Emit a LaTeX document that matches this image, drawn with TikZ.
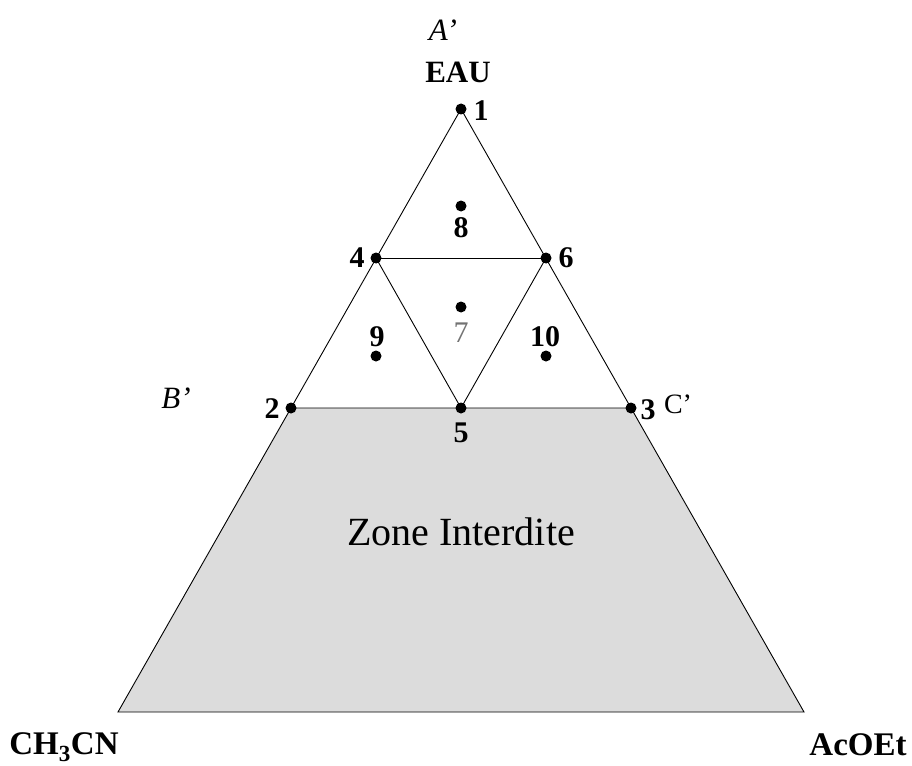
\documentclass[tikz,border=0pt]{standalone}
\usepackage{fontspec}
\setmainfont{Liberation Serif}
\definecolor{zonegray}{RGB}{220,220,220}
\begin{document}
\begin{tikzpicture}[x=1pt,y=-1pt,
  dot/.style={circle,fill=black,inner sep=0pt,minimum size=11pt},
  num/.style={font=\fontsize{30}{30}\selectfont\bfseries,inner sep=0pt},
  prime/.style={font=\fontsize{28}{28}\selectfont,inner sep=0pt},
  corner/.style={font=\fontsize{33}{33}\selectfont\bfseries,inner sep=0pt},
  edge/.style={line width=0.9pt,black}]
\useasboundingbox (0,0) rectangle (912,765);
% vertex positions
\coordinate (c1) at (461,109);
\coordinate (c2) at (291,408);
\coordinate (c3) at (631,408);
\coordinate (c4) at (376,258);
\coordinate (c6) at (546,258);
\coordinate (c5) at (461,408);
\coordinate (bl) at (118,712);
\coordinate (br) at (804,712);
% forbidden zone
\draw[edge,fill=zonegray] (c2) -- (c3) -- (br) -- (bl) -- cycle;
% triangle edges
\draw[edge] (c2) -- (c1) -- (c3);
\draw[edge] (c4) -- (c6);
\draw[edge] (c4) -- (c5) -- (c6);
% dots
\node[dot] (p1) at (c1) {};
\node[dot] (p2) at (c2) {};
\node[dot] (p3) at (c3) {};
\node[dot] (p4) at (c4) {};
\node[dot] (p5) at (c5) {};
\node[dot] (p6) at (c6) {};
\node[dot] (p7) at (461,307) {};
\node[dot] (p8) at (461,206) {};
\node[dot] (p9) at (376,356) {};
\node[dot] (p10) at (546,356) {};
% number labels
\node[num] (l1) at (481,111) {1};
\node[num] (l2) at (272,409) {2};
\node[num] (l3) at (648,410) {3};
\node[num] (l4) at (357,258) {4};
\node[num] (l5) at (461,433) {5};
\node[num] (l6) at (566,258) {6};
\node[inner sep=0pt,font=\fontsize{30}{30}\selectfont,text=black!55] (l7) at (461,333) {7};
\node[num] (l8) at (461,228) {8};
\node[num] (l9) at (377,337) {9};
\node[num] (l10) at (545,337) {10};
% primes
\node[prime,font=\fontsize{31}{31}\selectfont\itshape] (ap) at (443,30) {A’};
\node[prime,font=\fontsize{31}{31}\selectfont\itshape] (bp) at (176,398) {B’};
\node[prime] (cp) at (678,404) {C’};
% corners
\node[corner,font=\fontsize{31}{31}\selectfont\bfseries] (eau) at (458,72) {EAU};
\node[corner] (ch) at (64,747) {CH$_{\mathbf{3}}$CN};
\node[corner] (ac) at (858,745) {AcOEt};
% zone label
\node[inner sep=0pt,font=\fontsize{40}{40}\selectfont] (zone) at (461,532) {Zone Interdite};
\end{tikzpicture}
\end{document}
